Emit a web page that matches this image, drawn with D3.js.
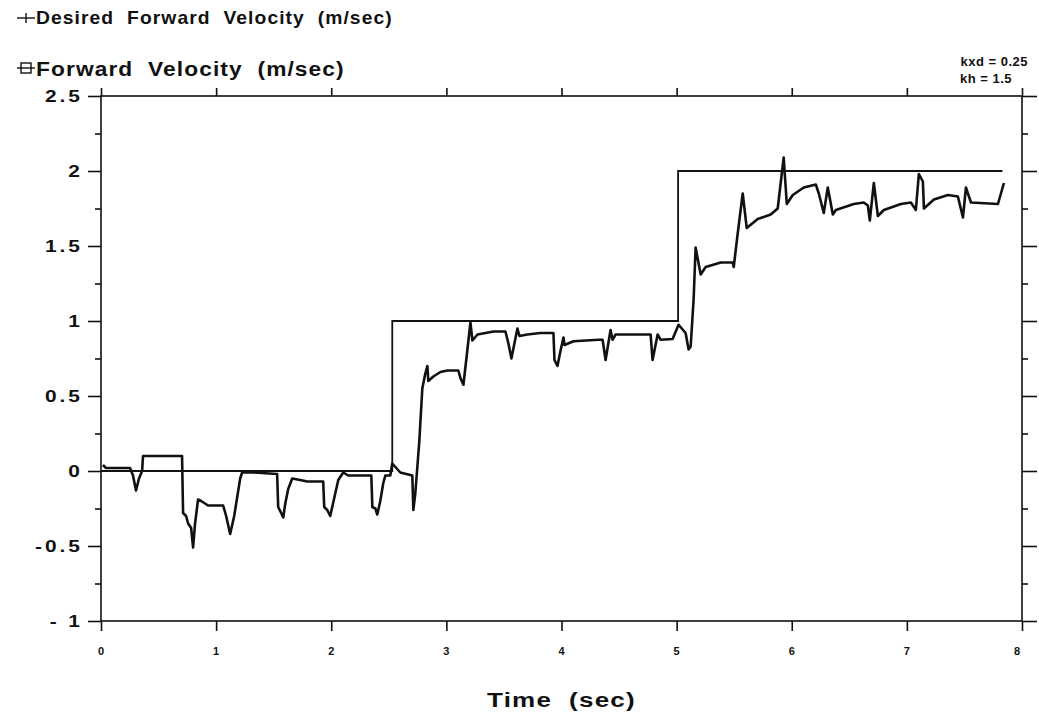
<!DOCTYPE html>
<html>
<head>
<meta charset="utf-8">
<script src="https://cdn.jsdelivr.net/npm/d3@7"></script>
<style>
  html, body { margin: 0; padding: 0; background: #fff; }
  svg { display: block; }
  text { font-family: "Liberation Sans", Arial, sans-serif; fill: #111; }
</style>
</head>
<body>
<svg id="chart" width="1039" height="721"></svg>
<script>
// Desired forward velocity: a staircase command (time in s, velocity in m/s)
const desiredTime = [0, 2.53, 2.53, 5.013, 5.013, 7.83];
const desiredVel  = [0, 0, 1, 1, 2, 2];

// Measured forward velocity of the robot
const forwardTime = [
  0.017, 0.043, 0.252, 0.278, 0.304, 0.330, 0.357, 0.365, 0.704, 0.713,
  0.739, 0.757, 0.783, 0.800, 0.817, 0.843, 0.870, 0.930, 1.061, 1.087,
  1.122, 1.157, 1.209, 1.226, 1.322, 1.530, 1.539, 1.565, 1.583, 1.600,
  1.626, 1.661, 1.730, 1.791, 1.930, 1.939, 1.965, 1.991, 2.026, 2.061,
  2.104, 2.148, 2.348, 2.357, 2.383, 2.400, 2.426, 2.452, 2.470, 2.513,
  2.530, 2.565, 2.600, 2.704, 2.713, 2.730, 2.765, 2.791, 2.817, 2.835,
  2.843, 2.887, 2.948, 3.009, 3.104, 3.122, 3.148, 3.174, 3.209, 3.226,
  3.270, 3.339, 3.409, 3.513, 3.539, 3.565, 3.591, 3.617, 3.635, 3.704,
  3.817, 3.930, 3.939, 3.965, 3.991, 4.017, 4.026, 4.104, 4.322, 4.357,
  4.383, 4.426, 4.443, 4.470, 4.774, 4.791, 4.835, 4.861, 4.965, 5.017,
  5.078, 5.104, 5.122, 5.148, 5.165, 5.209, 5.252, 5.383, 5.487, 5.496,
  5.530, 5.574, 5.609, 5.704, 5.817, 5.878, 5.930, 5.957, 6.009, 6.104,
  6.209, 6.235, 6.278, 6.313, 6.357, 6.383, 6.539, 6.626, 6.661, 6.678,
  6.713, 6.748, 6.800, 6.948, 7.035, 7.078, 7.104, 7.139, 7.148, 7.235,
  7.357, 7.443, 7.487, 7.513, 7.539, 7.557, 7.791, 7.843
];
const forwardVel = [
  0.04, 0.02, 0.02, -0.03, -0.13, -0.05, 0.00, 0.10, 0.10, -0.28,
  -0.30, -0.35, -0.38, -0.51, -0.35, -0.19, -0.20, -0.23, -0.23, -0.30,
  -0.42, -0.30, -0.05, -0.01, -0.01, -0.02, -0.24, -0.28, -0.31, -0.22,
  -0.12, -0.05, -0.06, -0.07, -0.07, -0.24, -0.26, -0.30, -0.18, -0.06,
  -0.01, -0.03, -0.03, -0.24, -0.25, -0.29, -0.20, -0.08, -0.03, -0.03,
  0.05, 0.02, -0.01, -0.03, -0.26, -0.15, 0.20, 0.55, 0.65, 0.70,
  0.60, 0.63, 0.66, 0.67, 0.67, 0.62, 0.575, 0.75, 0.99, 0.87,
  0.91, 0.92, 0.93, 0.93, 0.85, 0.75, 0.85, 0.95, 0.90, 0.91,
  0.92, 0.92, 0.74, 0.70, 0.80, 0.89, 0.84, 0.865, 0.875, 0.875,
  0.74, 0.94, 0.875, 0.91, 0.91, 0.74, 0.91, 0.875, 0.88, 0.975,
  0.92, 0.81, 0.83, 1.15, 1.49, 1.31, 1.36, 1.39, 1.39, 1.36,
  1.58, 1.85, 1.62, 1.68, 1.71, 1.75, 2.09, 1.78, 1.84, 1.89,
  1.91, 1.85, 1.72, 1.89, 1.71, 1.74, 1.78, 1.79, 1.77, 1.67,
  1.92, 1.70, 1.74, 1.78, 1.79, 1.74, 1.98, 1.93, 1.75, 1.81,
  1.84, 1.83, 1.69, 1.89, 1.83, 1.79, 1.78, 1.92
];

// Axis ticks and their labels
const xTickValues = [0, 1, 2, 3, 4, 5, 6, 7, 8];
const xTickLabels = ["0", "1", "2", "3", "4", "5", "6", "7", "8"];
const yTickValues = [-1, -0.5, 0, 0.5, 1, 1.5, 2, 2.5];
const yTickLabels = ["- 1", "-0.5", "0", "0.5", "1", "1.5", "2", "2.5"];
const yMinorValues = [-0.75, -0.25, 0.25, 0.75, 1.25, 1.75, 2.25];

const legendLabels = ["Desired  Forward  Velocity  (m/sec)", "Forward  Velocity  (m/sec)"];
const gainLabels = ["kxd = 0.25", "kh = 1.5"];
const xTitle = "Time  (sec)";

const svg = d3.select("#chart");
const plot = { left: 101, right: 1022, top: 96, bottom: 621 };

const x = d3.scaleLinear().domain([0, 8]).range([plot.left, plot.right]);
const y = d3.scaleLinear().domain([-1, 2.5]).range([plot.bottom, plot.top]);

const ink = "#111";

// Stretch a text element horizontally (about its left edge) to a given width,
// mimicking the wide plotter lettering.
function stretchTo(textSel, x0, width) {
  const w = textSel.node().getComputedTextLength();
  const s = width / w;
  textSel.attr("x", 0).attr("transform", `translate(${x0},0) scale(${s},1)`);
}

// Frame
svg.append("rect")
  .attr("x", plot.left).attr("y", plot.top)
  .attr("width", plot.right - plot.left).attr("height", plot.bottom - plot.top)
  .attr("fill", "none").attr("stroke", ink).attr("stroke-width", 1.6);

// Bottom axis: ticks pointing down
const bottomAxis = d3.axisBottom(x).tickValues(xTickValues).tickSize(10).tickFormat("");
const gB = svg.append("g").attr("transform", `translate(0,${plot.bottom})`).call(bottomAxis);
// Top axis: ticks pointing up
const topAxis = d3.axisTop(x).tickValues(xTickValues).tickSize(8).tickFormat("");
const gT = svg.append("g").attr("transform", `translate(0,${plot.top})`).call(topAxis);
// Left axis: major ticks, then shorter minor ticks
const leftAxis = d3.axisLeft(y).tickValues(yTickValues).tickSize(13).tickFormat("");
const gL = svg.append("g").attr("transform", `translate(${plot.left},0)`).call(leftAxis);
const leftMinor = d3.axisLeft(y).tickValues(yMinorValues).tickSize(6).tickFormat("");
const gLm = svg.append("g").attr("transform", `translate(${plot.left},0)`).call(leftMinor);
// Right axis
const rightAxis = d3.axisRight(y).tickValues(yTickValues).tickSize(15).tickFormat("");
const gR = svg.append("g").attr("transform", `translate(${plot.right},0)`).call(rightAxis);
const rightMinor = d3.axisRight(y).tickValues(yMinorValues).tickSize(6).tickFormat("");
const gRm = svg.append("g").attr("transform", `translate(${plot.right},0)`).call(rightMinor);

[gB, gT, gL, gLm, gR, gRm].forEach(g => {
  g.select(".domain").remove();
  g.selectAll(".tick line").attr("stroke", ink).attr("stroke-width", 1.6);
});

// X tick labels
svg.append("g").selectAll("text")
  .data(xTickValues)
  .join("text")
  .attr("x", d => x(d) - (d === 8 ? 5 : 0))
  .attr("y", 655)
  .attr("text-anchor", "middle")
  .attr("font-size", 11)
  .attr("font-weight", "bold")
  .text((d, i) => xTickLabels[i]);

// Y tick labels: wide lettering, right edge at x = 80
const yLabScale = 1.23, yLabSpacing = 2.4;
svg.append("g").selectAll("text")
  .data(yTickValues)
  .join("text")
  .attr("transform", d => `translate(${80 + yLabSpacing * yLabScale},${y(d) + 6}) scale(${yLabScale},1)`)
  .attr("text-anchor", "end")
  .attr("font-size", 17)
  .attr("font-weight", "bold")
  .attr("letter-spacing", yLabSpacing)
  .style("white-space", "pre")
  .text((d, i) => yTickLabels[i]);

// Axis title
const title = svg.append("text")
  .attr("y", 707)
  .attr("font-size", 21)
  .attr("font-weight", "bold")
  .attr("letter-spacing", 1)
  .style("white-space", "pre")
  .text(xTitle);
stretchTo(title, 487, 149);

// Data lines
const line = d3.line().x(d => x(d[0])).y(d => y(d[1]));
const desiredPts = desiredTime.map((t, i) => [t, desiredVel[i]]);
const forwardPts = forwardTime.map((t, i) => [t, forwardVel[i]]);

svg.append("path")
  .datum(desiredPts)
  .attr("d", line)
  .attr("fill", "none").attr("stroke", ink).attr("stroke-width", 1.8);

svg.append("path")
  .datum(forwardPts)
  .attr("d", line)
  .attr("fill", "none").attr("stroke", ink).attr("stroke-width", 2.6)
  .attr("stroke-linejoin", "round");

// Legend
const legendY = [18, 68];
const legendSize = [18, 21];
const legendWidth = [357, 309];
const legendG = svg.append("g");
legendLabels.forEach((label, i) => {
  const ly = legendY[i];
  legendG.append("line")
    .attr("x1", 17).attr("x2", 35).attr("y1", ly).attr("y2", ly)
    .attr("stroke", ink).attr("stroke-width", 1.4);
  if (i === 0) {
    legendG.append("line")
      .attr("x1", 26).attr("x2", 26).attr("y1", ly - 5).attr("y2", ly + 5)
      .attr("stroke", ink).attr("stroke-width", 1.4);
  } else {
    legendG.append("rect")
      .attr("x", 21).attr("y", ly - 5).attr("width", 10).attr("height", 10)
      .attr("fill", "none").attr("stroke", ink).attr("stroke-width", 1.4);
  }
  const t = legendG.append("text")
    .attr("y", ly + Math.round(legendSize[i] * 0.36))
    .attr("font-size", legendSize[i])
    .attr("font-weight", "bold")
    .attr("letter-spacing", 1)
    .style("white-space", "pre")
    .text(label);
  stretchTo(t, 36, legendWidth[i]);
});

// Gain annotation at top right
svg.append("g").selectAll("text")
  .data(gainLabels)
  .join("text")
  .attr("x", (d, i) => i === 0 ? 1028 : 1012)
  .attr("y", (d, i) => 66 + i * 17)
  .attr("text-anchor", "end")
  .attr("font-size", 13)
  .attr("font-weight", "bold")
  .attr("letter-spacing", 0.5)
  .style("white-space", "pre")
  .text(d => d);
</script>
</body>
</html>
